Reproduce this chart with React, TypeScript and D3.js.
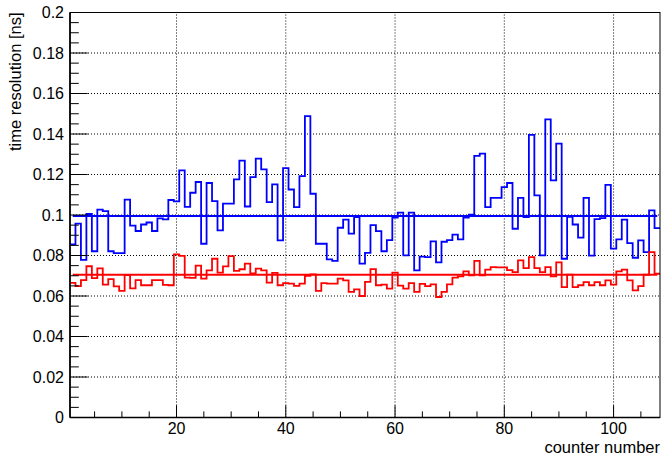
import React from "react";
import * as d3 from "d3";

const blueValues: number[] = [
  0.0855, 0.0957, 0.0778, 0.1005, 0.0821, 0.1027, 0.1019, 0.0821, 0.0812, 0.0812,
  0.1076, 0.0948, 0.0921, 0.0953, 0.0963, 0.0921, 0.0983, 0.0978, 0.1074, 0.1067,
  0.1220, 0.1040, 0.1110, 0.1163, 0.0858, 0.1158, 0.1069, 0.0924, 0.1056, 0.1056,
  0.1176, 0.1269, 0.1042, 0.1187, 0.1278, 0.1225, 0.1064, 0.1151, 0.0875, 0.1231,
  0.1126, 0.1039, 0.1192, 0.1488, 0.1105, 0.0858, 0.0858, 0.0781, 0.0773, 0.0937,
  0.0977, 0.0908, 0.0990, 0.0760, 0.0813, 0.0950, 0.0920, 0.0821, 0.0876, 0.0987,
  0.1012, 0.0801, 0.1012, 0.0727, 0.0794, 0.0792, 0.0870, 0.0766, 0.0868, 0.0876,
  0.0903, 0.0880, 0.0987, 0.1002, 0.1292, 0.1303, 0.1039, 0.1085, 0.1085, 0.1138,
  0.1158, 0.0932, 0.1085, 0.0990, 0.1396, 0.1097, 0.0801, 0.1472, 0.1171, 0.1352,
  0.0784, 0.0991, 0.0953, 0.0888, 0.1085, 0.0799, 0.0980, 0.0985, 0.1149, 0.0834,
  0.0880, 0.0977, 0.0861, 0.0789, 0.0875, 0.0817, 0.1023, 0.0935,
];

const redValues: number[] = [
  0.0665, 0.0649, 0.0678, 0.0747, 0.0688, 0.0736, 0.0656, 0.0683, 0.0648, 0.0625,
  0.0703, 0.0638, 0.0678, 0.0653, 0.0653, 0.0678, 0.0678, 0.0655, 0.0653, 0.0806,
  0.0798, 0.0691, 0.0690, 0.0750, 0.0686, 0.0727, 0.0784, 0.0715, 0.0746, 0.0797,
  0.0724, 0.0732, 0.0760, 0.0711, 0.0735, 0.0727, 0.0666, 0.0714, 0.0653, 0.0664,
  0.0661, 0.0650, 0.0661, 0.0699, 0.0707, 0.0625, 0.0664, 0.0661, 0.0661, 0.0686,
  0.0677, 0.0620, 0.0633, 0.0600, 0.0670, 0.0733, 0.0653, 0.0656, 0.0636, 0.0715,
  0.0651, 0.0636, 0.0664, 0.0620, 0.0660, 0.0649, 0.0657, 0.0595, 0.0620, 0.0657,
  0.0691, 0.0697, 0.0722, 0.0702, 0.0773, 0.0702, 0.0730, 0.0743, 0.0741, 0.0741,
  0.0728, 0.0718, 0.0776, 0.0738, 0.0792, 0.0738, 0.0718, 0.0743, 0.0697, 0.0766,
  0.0644, 0.0706, 0.0644, 0.0653, 0.0669, 0.0653, 0.0669, 0.0653, 0.0677, 0.0656,
  0.0722, 0.0730, 0.0677, 0.0628, 0.0649, 0.0705, 0.0817, 0.0710,
];

const blueMean = 0.0995;
const redMean = 0.0705;

const xTicks: number[] = [20, 40, 60, 80, 100];
const xMinorTicks: number[] = [5, 10, 15, 25, 30, 35, 45, 50, 55, 65, 70, 75, 85, 90, 95, 105];
const yTicks: number[] = [0, 0.02, 0.04, 0.06, 0.08, 0.1, 0.12, 0.14, 0.16, 0.18, 0.2];
const yTickLabels: string[] = ["0", "0.02", "0.04", "0.06", "0.08", "0.1", "0.12", "0.14", "0.16", "0.18", "0.2"];

const xTitle = "counter number";
const yTitle = "time resolution [ns]";

const W = 667;
const H = 459;
const L = 70;
const R = 660;
const T = 12.5;
const B = 417.5;
const FONT = "'Liberation Sans', Arial, Helvetica, sans-serif";

export default function App() {
  const x = d3.scaleLinear().domain([0.5, 108.5]).range([L, R]);
  const y = d3.scaleLinear().domain([0, 0.2]).range([B, T]);

  const stepPts = (vals: number[]): [number, number][] => {
    const pts: [number, number][] = [];
    vals.forEach((v, i) => {
      const c = i + 1;
      pts.push([x(c - 0.5), y(v)]);
      pts.push([x(c + 0.5), y(v)]);
    });
    return pts;
  };
  const line = d3.line<[number, number]>();
  const bluePath = line(stepPts(blueValues)) || "";
  const redPath = line(stepPts(redValues)) || "";

  const yMinor: number[] = d3.range(0, 0.2001, 0.005);

  return (
    <svg
      width={W}
      height={H}
      style={{ position: "absolute", left: 0, top: 0, background: "#fff" }}
      fontFamily={FONT}
    >
      <rect x={0} y={0} width={W} height={H} fill="#fff" />
      {xTicks.map((t) => (
        <line key={"gx" + t} x1={x(t)} x2={x(t)} y1={B} y2={T} stroke="#000" strokeWidth={1} strokeDasharray="1 2" />
      ))}
      {yTicks.slice(1).map((t) => (
        <line key={"gy" + t} x1={L} x2={R} y1={y(t)} y2={y(t)} stroke="#000" strokeWidth={1} strokeDasharray="1 2" />
      ))}
      <path d={bluePath} fill="none" stroke="#0000ff" strokeWidth={1.8} />
      <path d={redPath} fill="none" stroke="#ff0000" strokeWidth={1.8} />
      <line x1={x(1)} x2={x(108)} y1={y(blueMean)} y2={y(blueMean)} stroke="#0000ff" strokeWidth={2.2} />
      <line x1={x(1)} x2={x(108)} y1={y(redMean)} y2={y(redMean)} stroke="#ff0000" strokeWidth={2.2} />
      <rect x={L} y={T} width={R - L} height={B - T} fill="none" stroke="#000" strokeWidth={1} />
      <line x1={L} x2={L} y1={T} y2={B} stroke="#000" strokeWidth={1.6} />
      <line x1={L} x2={R} y1={B} y2={B} stroke="#000" strokeWidth={1.4} />
      {yMinor.map((t, i) => (
        <line key={"ym" + i} x1={L} x2={L + (i % 4 === 0 ? 17.7 : 8.8)} y1={y(t)} y2={y(t)} stroke="#000" strokeWidth={1} />
      ))}
      {yTicks.map((t, i) => (
        <text key={"yl" + t} x={64} y={y(t) + 5.5} textAnchor="end" fontSize={16} fill="#000">
          {yTickLabels[i]}
        </text>
      ))}
      {xTicks.map((t) => (
        <g key={"xt" + t}>
          <line x1={x(t)} x2={x(t)} y1={B} y2={B - 12.2} stroke="#000" strokeWidth={1} />
          <text x={x(t)} y={434} textAnchor="middle" fontSize={16} fill="#000">
            {t}
          </text>
        </g>
      ))}
      {xMinorTicks.map((t) => (
        <line key={"xm" + t} x1={x(t)} x2={x(t)} y1={B} y2={B - 6.1} stroke="#000" strokeWidth={1} />
      ))}
      <text x={R} y={453} textAnchor="end" fontSize={16.5} fill="#000">
        {xTitle}
      </text>
      <text transform={`translate(21, ${T}) rotate(-90)`} textAnchor="end" fontSize={16.5} fill="#000">
        {yTitle}
      </text>
    </svg>
  );
}
